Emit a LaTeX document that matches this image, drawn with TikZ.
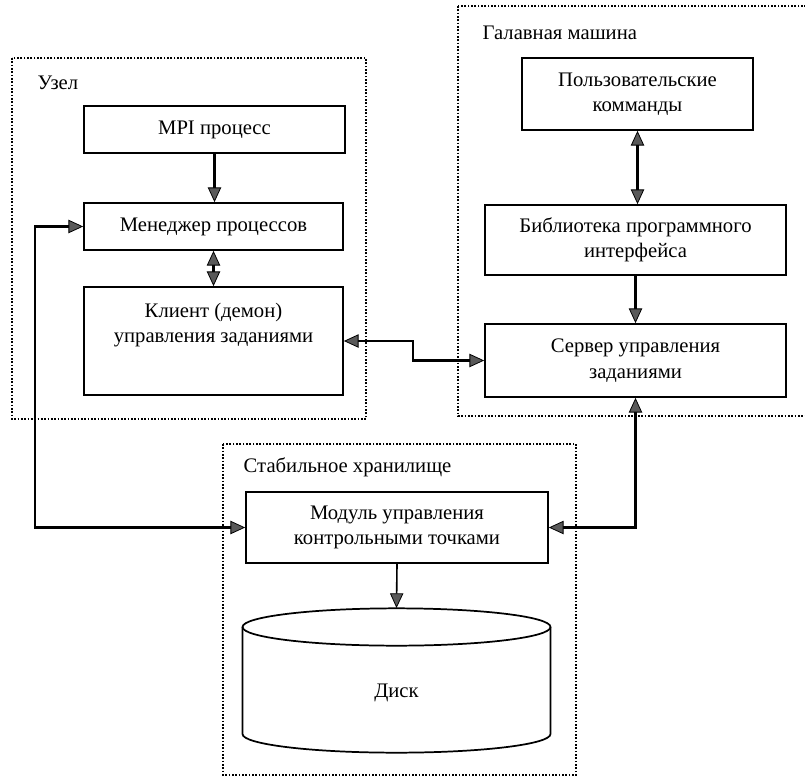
\documentclass[tikz,border=0pt]{standalone}
\usepackage{fontspec}
\setmainfont{Liberation Serif}
\usetikzlibrary{
    arrows.meta,
    calc,
    positioning
}

\begin{document}
\begin{tikzpicture}[x=0.75pt, y=-0.75pt,
    every node/.style={font=\fontsize{15.5}{19}\selectfont},
    >={Triangle[length=11pt, width=10pt, line width=0.6pt, fill=black!65]},
    block/.style={draw, line width=1.3pt, align=center, inner sep=2pt},
    zone/.style={line width=1pt, dash pattern=on 1.2pt off 1.3pt},
    conn/.style={line width=2.2pt, ->},
    biconn/.style={line width=2.2pt, <->},
    thinconn/.style={line width=1.2pt, ->}]
                                \useasboundingbox (0,0) rectangle (805,777);
                                % dotted zones
                                \draw[zone] (12,58) rectangle (366,419);
                                \draw[zone] (458,6) rectangle (812,416);
                                \draw[zone] (223,444) rectangle (576,775);
                                \node[anchor=west] (nodelbl) at (33,83) {Узел};
                                \node[anchor=west] (hostlbl) at (478,33) {Галавная машина};
                                \node[anchor=west] (storelbl) at (239,467) {Стабильное хранилище};
                                % node
                                \node[block, minimum width=195.75pt, minimum height=35.25pt] (mpi) at (214.5,129.5) {MPI процесс};
                                \node[block, minimum width=194.25pt, minimum height=35.25pt] (manager) at (213.5,226.5) {Менеджер процессов};
                                \node[block, minimum width=194.25pt, minimum height=81pt] (klient) at (213.5,341) {};
                                \node[align=center] (klienttxt) at (213.5,325) {Клиент (демон)\\управления заданиями};
                                % host
                                \node[block, minimum width=173.25pt, minimum height=54pt] (users) at (637.5,94) {Пользовательские\\комманды};
                                \node[block, minimum width=225.75pt, minimum height=52.5pt] (library) at (635.5,240) {Библиотека программного\\интерфейса};
                                \node[block, minimum width=225.75pt, minimum height=54.75pt] (server) at (635.5,360.5) {Сервер управления\\заданиями};
                                % storage
                                \node[block, minimum width=226.5pt, minimum height=53.25pt] (module) at (397,527.5) {Модуль управления\\контрольными точками};
                                \draw[line width=1.3pt] (396.5,627) ellipse [x radius=115.5pt, y radius=14pt];
                                \draw[line width=1.3pt] (242.5,627) -- (242.5,734) arc[start angle=180, end angle=360, x radius=115.5pt, y radius=14pt] -- (550.5,627);
                                \coordinate (disktop) at (396.5,608);
                                \node (disk) at (396.5,693) {Диск};
                                % links
                                \draw[conn] (mpi.south) -- (mpi.south |- manager.north);
                                \draw[biconn] (manager.south) -- (klient.north);
                                \draw[biconn] (users.south) -- (users.south |- library.north);
                                \draw[conn] (library.south) -- (server.north);
                                \coordinate (zz) at (413,351);
                                \draw[biconn] (klient.east) -| (zz) |- (server.west);
                                \coordinate (leftbus) at (35,400);
                                \draw[biconn] (manager.west) -| (leftbus) |- (module.west);
                                \draw[biconn] (module.east) -| (server.south);
                                \draw[thinconn] (module.south) -- (disktop);
                            \end{tikzpicture}
\end{document}
